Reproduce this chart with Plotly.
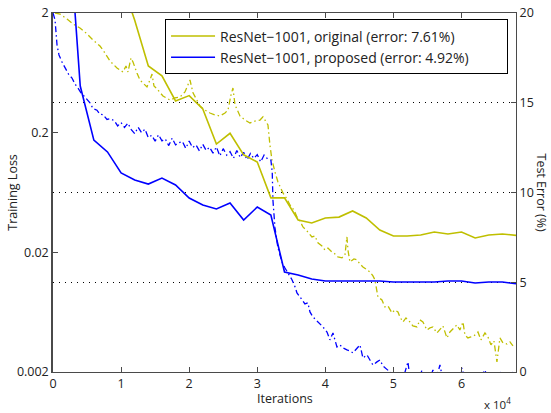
import plotly.graph_objects as go

# ---------------- data ----------------
# test error (%), evaluated every 2000 iterations
test_iters = [2000 * k for k in range(1, 35)]
test_err_original = [40, 33, 28, 24.5, 21.8, 19.6, 17.05, 16.5, 15.1, 15.4, 14.65, 12.7, 13.3, 12.1,
                     11.7, 9.7, 9.7, 8.47, 8.3, 8.58, 8.63, 8.97, 8.58, 7.91, 7.58, 7.58, 7.63, 7.8,
                     7.69, 7.8, 7.47, 7.63, 7.69, 7.61]
test_err_proposed = [26.6, 15.93, 12.92, 12.26, 11.09, 10.7, 10.47, 10.8, 10.42, 9.69, 9.3, 9.08, 9.41,
                     8.47, 9.19, 8.75, 5.57, 5.40, 5.18, 5.07, 5.07, 5.07, 5.07, 5.07, 5.01, 5.01, 5.01,
                     5.01, 5.07, 5.07, 4.96, 5.01, 5.01, 4.92]

# training loss, original
train_iters_original = [300, 1030, 2060, 2940, 3960, 4990, 5870, 6900, 7340, 8370, 9400, 10280, 10720,
                        11010, 11450, 11750, 12330, 12780, 13360, 13800, 14240, 14540, 14830, 15270,
                        16150, 17180, 17910, 18650, 19380, 19820, 20120, 20560, 21150, 21590, 22320,
                        23050, 23790, 24520, 25260, 25700, 26140, 26430, 26730, 27460, 28190, 28930,
                        29660, 30400, 30840, 31280, 31570, 31860, 32160, 32600, 33040, 33770, 34360,
                        34800, 35390, 35830, 36270, 36710, 37300, 38030, 38470, 38910, 39500, 39940,
                        40380, 40970, 41410, 41850, 42440, 42880, 43170, 43320, 43610, 44200, 44640,
                        45080, 45520, 46110, 46550, 46990, 47280, 47720, 48310, 48750, 49190, 49780,
                        50220, 50660, 50950, 51400, 51840, 52420, 52860, 53450, 53890, 54330, 54920,
                        55360, 55800, 56390, 56830, 57270, 57860, 58300, 58880, 59320, 59760, 60210,
                        60500, 60940, 61380, 61820, 62410, 62850, 63440, 63880, 64320, 64760, 65200,
                        65640, 66080, 66670, 67110, 67550]
train_loss_original = [2.0, 1.96, 1.78, 1.62, 1.50, 1.34, 1.19, 1.06, 0.982, 0.794, 0.694, 0.643, 0.721,
                       0.643, 0.842, 0.779, 0.630, 0.551, 0.510, 0.482, 0.551, 0.618, 0.491, 0.464,
                       0.405, 0.375, 0.390, 0.397, 0.438, 0.510, 0.551, 0.430, 0.375, 0.334, 0.309,
                       0.292, 0.281, 0.276, 0.292, 0.309, 0.413, 0.472, 0.341, 0.276, 0.255, 0.241,
                       0.250, 0.255, 0.271, 0.246, 0.232, 0.158, 0.118, 0.0939, 0.0775, 0.0627, 0.0559,
                       0.0498, 0.0452, 0.0395, 0.0366, 0.0326, 0.0302, 0.0269, 0.0274, 0.0240, 0.0226,
                       0.0209, 0.0217, 0.0201, 0.0194, 0.0183, 0.0180, 0.0190, 0.0269, 0.0209, 0.0166,
                       0.0176, 0.0173, 0.0160, 0.0151, 0.0143, 0.0137, 0.0127, 0.0118, 0.00848, 0.00800,
                       0.00700, 0.00713, 0.00623, 0.00660, 0.00635, 0.00577, 0.00524, 0.00566, 0.00524,
                       0.00485, 0.00476, 0.00545, 0.00524, 0.00449, 0.00467, 0.00476, 0.00424, 0.00449,
                       0.00485, 0.00385, 0.00432, 0.00467, 0.00495, 0.00449, 0.00524, 0.00408, 0.00385,
                       0.00393, 0.00400, 0.00432, 0.00371, 0.00424, 0.00393, 0.00337, 0.00364, 0.00243,
                       0.00385, 0.00350, 0.00343, 0.00357, 0.00331]

# training loss, proposed
train_iters_proposed = [0, 300, 590, 880, 1320, 1760, 2350, 2790, 3230, 3670, 4110, 4550, 4990, 5430,
                        5870, 6460, 6900, 7340, 7930, 8370,
                        9000, 9500, 10000, 10500, 11000, 11500, 12000, 12500, 13000, 13500, 14000,
                        14500, 15000, 15500, 16000, 16500, 17000, 17500, 18000, 18500, 19000, 19500,
                        20000, 20500, 21000, 21500, 22000, 22500, 23000, 23500, 24000, 24500, 25000,
                        25500, 26000, 26500, 27000, 27500, 28000, 28500, 29000, 29500, 30000, 30500,
                        31000, 31500, 32000,
                        32200, 32300, 32600, 33040, 33630, 34070, 34510, 35100, 35540, 35830, 36270,
                        36560, 37000, 37440, 37740, 38180, 38620, 39210, 39650, 40240, 40680, 41120,
                        41700, 42150, 42580, 43170, 43610, 44050, 44640, 45080, 45520, 46110, 46550,
                        46990, 47580, 48020, 48460, 49050, 49490, 49930, 50510, 50950, 51540, 52130,
                        52420, 53160, 53890, 54190, 54630, 55360, 55800, 56240, 56830, 57270, 58300,
                        59030, 59760, 60060, 60500, 61230, 61970, 62700, 63440, 63880, 64900, 65640,
                        66080, 67110, 67550]
train_loss_proposed = [2.0, 1.75, 1.08, 0.892, 0.779, 0.694, 0.607, 0.572, 0.510, 0.472, 0.430, 0.405,
                       0.375, 0.355, 0.318, 0.308, 0.285, 0.283, 0.258, 0.262,
                       0.252, 0.228, 0.243, 0.221, 0.240, 0.212, 0.196, 0.222, 0.200, 0.214, 0.182,
                       0.190, 0.170, 0.192, 0.171, 0.177, 0.156, 0.180, 0.158, 0.165, 0.169, 0.148,
                       0.170, 0.150, 0.158, 0.141, 0.160, 0.142, 0.151, 0.135, 0.152, 0.128, 0.147,
                       0.130, 0.139, 0.122, 0.142, 0.124, 0.137, 0.119, 0.134, 0.122, 0.131, 0.114,
                       0.130, 0.121, 0.118,
                       0.0939, 0.0548, 0.0320, 0.0218, 0.0166, 0.0148, 0.0135, 0.0118, 0.0103, 0.00916,
                       0.00848, 0.00800, 0.00741, 0.00756, 0.00635, 0.00577, 0.00545, 0.00514, 0.00476,
                       0.00432, 0.00371, 0.00424, 0.00324, 0.00337, 0.00318, 0.00306, 0.00300, 0.00289,
                       0.00312, 0.00337, 0.00262, 0.00278, 0.00252, 0.00229, 0.00243, 0.00252, 0.00225,
                       0.00208, 0.00200, 0.00193, 0.00182, 0.00178, 0.00186, 0.00243, 0.00178, 0.00171,
                       0.00182, 0.00208, 0.00171, 0.00175, 0.00208, 0.00171, 0.00229, 0.00171, 0.00175,
                       0.00182, 0.00171, 0.00216, 0.00171, 0.00175, 0.00168, 0.00178, 0.00208, 0.00171,
                       0.00175, 0.00204, 0.00171, 0.00175, 0.00200]

x_tick_vals = [0, 10000, 20000, 30000, 40000, 50000, 60000]
x_tick_text = ["0", "1", "2", "3", "4", "5", "6"]
loss_tick_vals = [0.002, 0.02, 0.2, 2]
loss_tick_text = ["0.002", "0.02", "0.2", "2"]
err_tick_vals = [0, 5, 10, 15, 20]
legend_names = ["ResNet\u22121001, original (error: 7.61%)", "ResNet\u22121001, proposed (error: 4.92%)"]

YELLOW = "#bfbf00"
BLUE = "#0000ff"
FONT = "Open Sans"
PAD = "\u00a0" * 9  # trailing blank room inside the legend box, as in the reference

fig = go.Figure()
fig.add_trace(go.Scatter(x=train_iters_original, y=train_loss_original, mode="lines",
                         line=dict(color=YELLOW, width=1.3, dash="6px,3px,1.5px,3px"),
                         showlegend=False, yaxis="y"))
fig.add_trace(go.Scatter(x=train_iters_proposed, y=train_loss_proposed, mode="lines",
                         line=dict(color=BLUE, width=1.3, dash="6px,3px,1.5px,3px"),
                         showlegend=False, yaxis="y"))
fig.add_trace(go.Scatter(x=test_iters, y=test_err_original, mode="lines", name=legend_names[0] + PAD,
                         line=dict(color=YELLOW, width=1.6), yaxis="y2"))
fig.add_trace(go.Scatter(x=test_iters, y=test_err_proposed, mode="lines", name=legend_names[1] + PAD,
                         line=dict(color=BLUE, width=1.6), yaxis="y2"))

axis_line = "#4a4a4a"
fig.update_layout(
    width=551, height=413,
    autosize=False,
    margin=dict(l=53, r=35, t=13, b=41, autoexpand=False),
    paper_bgcolor="white", plot_bgcolor="white",
    font=dict(family=FONT, size=12, color="#222"),
    xaxis=dict(range=[0, 68000], tickvals=x_tick_vals, ticktext=x_tick_text,
               ticks="inside", ticklen=5, tickcolor=axis_line, showline=True, linecolor=axis_line,
               linewidth=1.2, mirror="ticks", showgrid=False, zeroline=False,
               tickfont=dict(size=12.5)),
    yaxis=dict(type="log", range=[-2.69897, 0.30103], tickvals=loss_tick_vals, ticktext=loss_tick_text,
               ticks="inside", ticklen=5, tickcolor=axis_line, showline=True, linecolor=axis_line,
               linewidth=1.5, showgrid=False, zeroline=False, tickfont=dict(size=12.5)),
    yaxis2=dict(overlaying="y", side="right", range=[0, 20], tickvals=err_tick_vals,
                ticks="inside", ticklen=5, tickcolor=axis_line, showline=True, linecolor=axis_line,
                linewidth=1.2, showgrid=True, gridcolor="#000", gridwidth=1, griddash="1px,5px",
                zeroline=False, tickfont=dict(size=12.5)),
    legend=dict(x=0.242, y=0.982, xanchor="left", yanchor="top", bgcolor="white",
                bordercolor="#000", borderwidth=1, font=dict(size=14), itemwidth=44,
                tracegroupgap=0),
    annotations=[
        dict(text="Training Loss", x=-0.088, y=0.5, xref="paper", yref="paper", showarrow=False,
             xanchor="center", yanchor="middle", textangle=-90, font=dict(size=12.5)),
        dict(text="Test Error (%)", x=1.054, y=0.5, xref="paper", yref="paper", showarrow=False,
             xanchor="center", yanchor="middle", textangle=90, font=dict(size=12.5)),
        dict(text="Iterations", x=0.5, y=-0.075, xref="paper", yref="paper", showarrow=False,
             xanchor="center", yanchor="middle", font=dict(size=12.5)),
        dict(text="x 10<sup>4</sup>", x=0.959, y=-0.088, xref="paper", yref="paper", showarrow=False,
             xanchor="center", yanchor="middle", font=dict(size=11.5)),
    ],
)

fig.write_html(
    "out.html",
    config={"displayModeBar": False},
    post_script="document.body.style.margin='0';document.body.style.overflow='hidden';",
)
